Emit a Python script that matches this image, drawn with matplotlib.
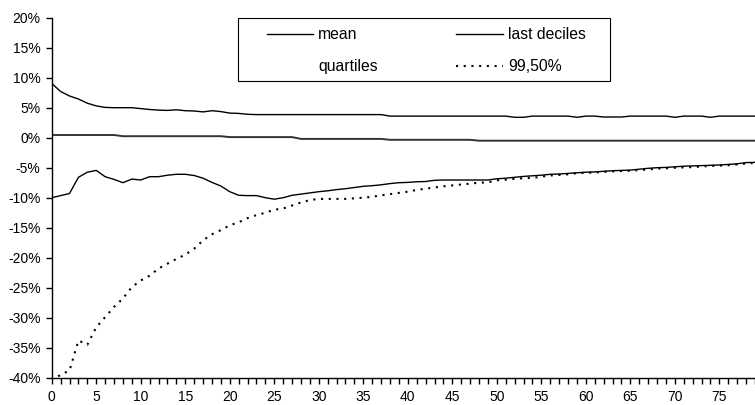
import matplotlib
matplotlib.use("Agg")
import matplotlib.pyplot as plt
from matplotlib.lines import Line2D
from matplotlib.patches import Rectangle
from matplotlib.ticker import MultipleLocator, FuncFormatter

plt.rcParams['font.family'] = ['Liberation Sans', 'DejaVu Sans']

# horizon (years)
t = list(range(80))

# upper line (last decile, upper side), in %
decile_up = [9.05, 7.7, 6.95, 6.45, 5.75, 5.3, 5.05, 5.0, 5.0, 5.0,
             4.85, 4.7, 4.6, 4.55, 4.65, 4.5, 4.45, 4.3, 4.5, 4.35,
             4.1, 4.05, 3.9, 3.85, 3.85, 3.85, 3.85, 3.85, 3.85, 3.85,
             3.85, 3.85, 3.85, 3.85, 3.85, 3.85, 3.85, 3.85, 3.6, 3.6,
             3.6, 3.6, 3.6, 3.6, 3.6, 3.6, 3.6, 3.6, 3.6, 3.6,
             3.6, 3.6, 3.4, 3.4, 3.6, 3.6, 3.6, 3.6, 3.6, 3.4,
             3.6, 3.6, 3.45, 3.45, 3.45, 3.6, 3.6, 3.6, 3.6, 3.6,
             3.4, 3.6, 3.6, 3.6, 3.4, 3.6, 3.6, 3.6, 3.6, 3.6]

# mean, in %
mean = [0.45] * 8 + [0.25] * 12 + [0.1] * 8 + [-0.2] * 10 + [-0.35] * 10 + [-0.5] * 32

# lower line (last decile, lower side), in %
decile_lo = [-10.0, -9.65, -9.3, -6.6, -5.75, -5.45, -6.5, -6.95, -7.5, -6.9,
             -7.05, -6.5, -6.5, -6.25, -6.1, -6.1, -6.3, -6.75, -7.45, -8.05,
             -9.0, -9.6, -9.65, -9.65, -10.0, -10.25, -10.0, -9.6, -9.4, -9.2,
             -9.0, -8.85, -8.65, -8.5, -8.3, -8.1, -8.0, -7.85, -7.65, -7.5,
             -7.45, -7.35, -7.3, -7.1, -7.05, -7.05, -7.05, -7.05, -7.05, -7.05,
             -6.85, -6.75, -6.6, -6.45, -6.35, -6.25, -6.1, -6.05, -5.95, -5.85,
             -5.75, -5.7, -5.6, -5.5, -5.45, -5.4, -5.25, -5.1, -5.0, -4.95,
             -4.85, -4.75, -4.7, -4.65, -4.6, -4.55, -4.45, -4.35, -4.15, -4.1]

# 99,50% quantile, in %
q995 = [-40.5, -39.5, -38.8, -33.8, -34.5, -31.6, -29.9, -28.2, -26.8, -24.9,
        -23.8, -23.0, -21.8, -21.0, -20.2, -19.5, -18.5, -17.1, -16.1, -15.4,
        -14.6, -14.1, -13.4, -12.9, -12.5, -12.0, -11.8, -11.3, -10.8, -10.4,
        -10.2, -10.2, -10.2, -10.2, -10.1, -10.0, -9.85, -9.6, -9.4, -9.2,
        -9.0, -8.7, -8.5, -8.3, -8.1, -7.95, -7.8, -7.65, -7.5, -7.45,
        -7.1, -7.0, -6.85, -6.75, -6.7, -6.5, -6.3, -6.2, -6.1, -5.9,
        -5.85, -5.8, -5.7, -5.6, -5.55, -5.5, -5.4, -5.3, -5.15, -5.1,
        -5.0, -4.95, -4.9, -4.8, -4.7, -4.65, -4.6, -4.45, -4.3, -4.2]

labels = ['mean', 'last deciles', 'quartiles', '99,50%']

fig = plt.figure(figsize=(7.55, 4.05), dpi=100)
ax = fig.add_axes([0.0685, 0.0674, 0.9315, 0.8889])

dots = (0, (1, 2.7))
ax.plot(t, decile_up, color='black', lw=1.0)
ax.plot(t, mean, color='#333333', lw=1.4)
ax.plot(t, decile_lo, color='black', lw=1.0)
ax.plot(t, q995, color='black', lw=1.5, linestyle=dots)

ax.set_xlim(0, 79)
ax.set_ylim(-40, 20)
ax.xaxis.set_major_locator(MultipleLocator(5))
ax.xaxis.set_minor_locator(MultipleLocator(1))
ax.yaxis.set_major_locator(MultipleLocator(5))
ax.yaxis.set_major_formatter(FuncFormatter(lambda v, p: '%d%%' % round(v)))
ax.tick_params(axis='both', which='both', direction='out', length=4,
               width=1, color='black', labelsize=10)
ax.tick_params(axis='x', pad=5)
ax.tick_params(axis='y', pad=4)
for s in ['top', 'right']:
    ax.spines[s].set_visible(False)
for s in ['left', 'bottom']:
    ax.spines[s].set_color('black')
    ax.spines[s].set_linewidth(1.0)

# legend box
fig.patches.append(Rectangle((0.3156, 0.8), 0.4923, 0.1563, transform=fig.transFigure,
                             fill=False, edgecolor='black', lw=0.8))
handles = [Line2D([], [], color='black', lw=1.0),
           Line2D([], [], color='none'),
           Line2D([], [], color='black', lw=1.0),
           Line2D([], [], color='black', lw=1.5, linestyle=dots)]
ax.legend(handles, [labels[0], labels[2], labels[1], labels[3]], ncol=2,
          loc='upper left', bbox_to_anchor=(0.3532, 0.9333), bbox_transform=fig.transFigure,
          frameon=False, borderpad=0, borderaxespad=0, fontsize=11.3,
          handlelength=2.94, handletextpad=0.35, columnspacing=5.0, labelspacing=1.1)

fig.savefig('out.png', dpi=100)
